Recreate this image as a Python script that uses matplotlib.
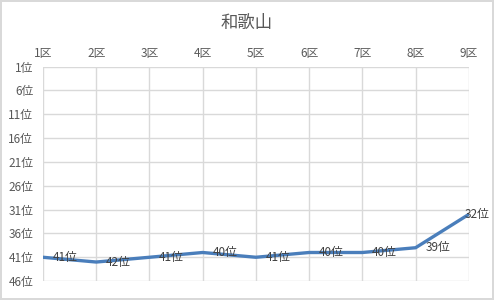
"""和歌山 district ranking line chart"""

import matplotlib
matplotlib.use('Agg')
import matplotlib.pyplot as plt

plt.rcParams['font.family'] = ['Noto Sans CJK JP', 'DejaVu Sans']

title = '和歌山'
districts = ['1区', '2区', '3区', '4区', '5区', '6区', '7区', '8区', '9区']
ranks = [41, 42, 41, 40, 41, 40, 40, 39, 32]
rank_ticks = [1, 6, 11, 16, 21, 26, 31, 36, 41, 46]

fig = plt.figure(figsize=(4.94, 3.0), dpi=100)
fig.patch.set_edgecolor('#d9d9d9')
fig.patch.set_linewidth(1.5)
ax = fig.add_axes([0.087, 0.063, 0.862, 0.715])

x = list(range(len(districts)))
ax.plot(x, ranks, color='#4a7ebb', linewidth=2.4, solid_capstyle='round', zorder=3)

# data labels to the right of each point, last one pulled back inside the chart
for i, r in enumerate(ranks):
    dx = 7 if i < len(ranks) - 1 else -3
    ax.annotate('%d位' % r, (i, r), xytext=(dx, 0), textcoords='offset points',
                ha='left', va='center', fontsize=8.5, color='#404040', zorder=4,
                annotation_clip=False)

ax.set_xlim(0, len(districts) - 1)
ax.set_ylim(46, 1)
ax.set_xticks(x)
ax.set_xticklabels(districts)
ax.set_yticks(rank_ticks)
ax.set_yticklabels(['%d位' % t for t in rank_ticks])
ax.xaxis.tick_top()
ax.tick_params(axis='both', length=0, labelsize=8.5, labelcolor='#595959')
ax.tick_params(axis='x', pad=5)
ax.tick_params(axis='y', pad=7)
ax.grid(True, color='#d9d9d9', linewidth=1)
ax.set_axisbelow(True)
for s in ax.spines.values():
    s.set_visible(False)

fig.text(0.5, 0.925, title, ha='center', va='center', fontsize=12.5, color='#595959')

fig.savefig('out.png', dpi=100)
